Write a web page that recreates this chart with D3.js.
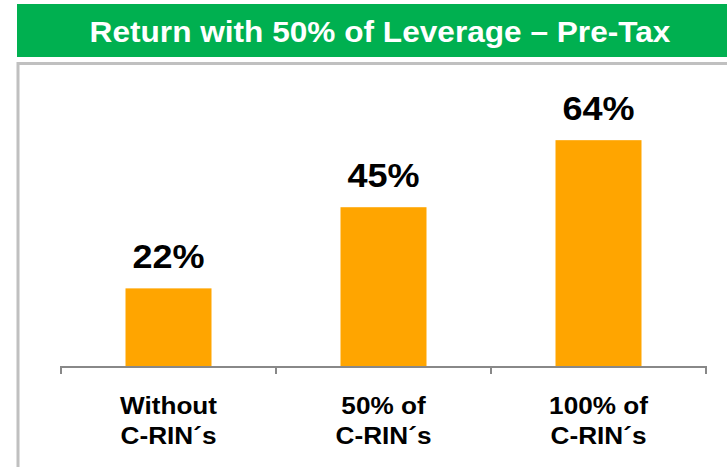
<!DOCTYPE html>
<style>
    body { margin: 0; background: #fff; font-family: 'Liberation Sans', Arial, sans-serif; }
</style>
<body>
<svg width="727" height="467" viewBox="0 0 727 467" id="chart"></svg>
<script src="https://d3js.org/d3.v7.min.js"></script>
<script>

    var title = "Return with 50% of Leverage \u2013 Pre-Tax";
    var categories = [["Without", "C-RIN\u00b4s"], ["50% of", "C-RIN\u00b4s"], ["100% of", "C-RIN\u00b4s"]];
    var values = [22, 45, 64];

    var svg = d3.select("svg");
    var stretch = 1.09;   // the source text is a little wider than plain Arial

    // frame + header
    svg.append("path")
        .attr("d", "M18,467 V63.5 H727")
        .attr("fill", "none")
        .attr("stroke", "#c0c0c0")
        .attr("stroke-width", 3);

    svg.append("rect")
        .attr("x", 17).attr("y", 4)
        .attr("width", 710).attr("height", 53)
        .attr("fill", "#00b050");

    svg.append("text")
        .attr("transform", "translate(380,42) scale(" + stretch + ",1)")
        .attr("text-anchor", "middle")
        .attr("font-size", "29px")
        .attr("font-weight", "bold")
        .attr("fill", "#fff")
        .text(title);

    var x = d3.scaleBand()
        .domain(d3.range(categories.length))
        .range([61, 706])
        .padding(0);

    var y = d3.scaleLinear()
        .domain([0, 70])
        .range([366, 119]);

    var barW = x.bandwidth() * 0.4;

    svg.append("g")
        .selectAll("rect")
        .data(values)
        .enter().append("rect")
        .attr("x", function(d, i) { return x(i) + (x.bandwidth() - barW) / 2; })
        .attr("y", function(d) { return y(d); })
        .attr("width", barW)
        .attr("height", function(d) { return y(0) - y(d); })
        .attr("fill", "#ffa500");

    svg.append("g")
        .selectAll("text")
        .data(values)
        .enter().append("text")
        .attr("transform", function(d, i) {
            return "translate(" + (x(i) + x.bandwidth() / 2) + "," + (y(d) - 20) + ") scale(1.06,1)";
        })
        .attr("text-anchor", "middle")
        .attr("font-size", "34px")
        .attr("font-weight", "bold")
        .attr("fill", "#000")
        .text(function(d) { return d + "%"; });

    // axis: line with ticks at band edges
    var edges = d3.range(categories.length + 1).map(function(i) { return x.range()[0] + i * x.step(); });
    var axis = svg.append("g").attr("stroke", "#888").attr("stroke-width", 2);
    axis.append("line")
        .attr("x1", x.range()[0]).attr("x2", x.range()[1])
        .attr("y1", y(0) + 1).attr("y2", y(0) + 1);
    axis.selectAll(".tick")
        .data(edges)
        .enter().append("line")
        .attr("class", "tick")
        .attr("x1", function(d) { return d; }).attr("x2", function(d) { return d; })
        .attr("y1", y(0)).attr("y2", y(0) + 8);

    var labels = svg.append("g")
        .selectAll("text")
        .data(categories)
        .enter().append("text")
        .attr("transform", function(d, i) {
            return "translate(" + (x(i) + x.bandwidth() / 2) + ",0) scale(" + stretch + ",1)";
        })
        .attr("text-anchor", "middle")
        .attr("font-size", "24px")
        .attr("font-weight", "bold")
        .attr("fill", "#000");

    labels.selectAll("tspan")
        .data(function(d) { return d; })
        .enter().append("tspan")
        .attr("x", 0)
        .attr("y", function(d, j) { return 414 + j * 30; })
        .text(function(d) { return d; });

</script>
</body>
